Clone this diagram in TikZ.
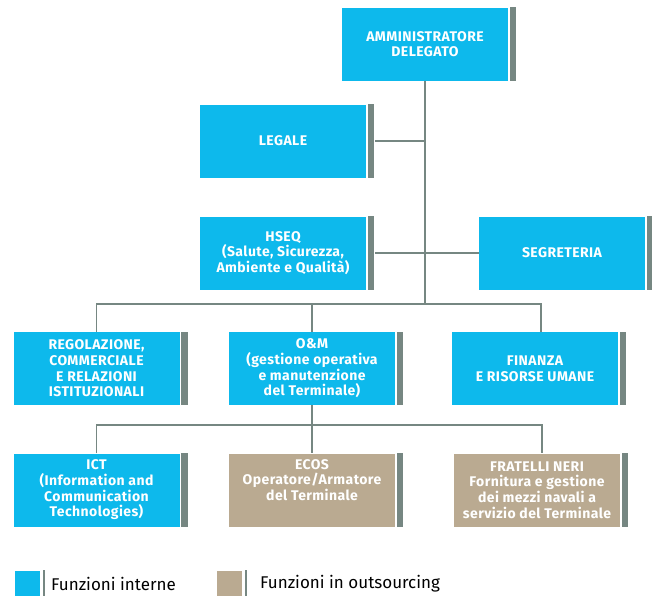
\documentclass[tikz,border=0pt]{standalone}
\usepackage{fontspec}
\setmainfont{Fira Sans}
\usepackage{tikz}
\usetikzlibrary{positioning}
\definecolor{funzblue}{RGB}{13,185,236}
\definecolor{funzsand}{RGB}{186,170,145}
\definecolor{funzgrey}{RGB}{118,135,130}

\begin{document}
\begin{tikzpicture}[x=1pt,y=-1pt,node distance=100pt,on grid,
    unit/.style={fill=funzblue,text=white,minimum width=166pt,minimum height=73pt,
      inner sep=0pt,align=center,font=\fontsize{14}{15.7}\selectfont\bfseries\addfontfeatures{LetterSpace=3}},
    outsrc/.style={unit,fill=funzsand},
    link/.style={draw=funzgrey,line width=1.6pt},
    keybox/.style={minimum size=25pt,inner sep=0pt},
    keytext/.style={anchor=west,inner sep=0pt,font=\fontsize{17}{20}\selectfont}]
    \useasboundingbox (0,0) rectangle (652,597);
    \node[unit] (ad) at (425,44) {AMMINISTRATORE\\DELEGATO};
    \node[unit] (legale) [below left=97pt and 142pt of ad] {LEGALE};
    \node[unit] (hseq) [below=112pt of legale] {HSEQ\\(Salute, Sicurezza,\\Ambiente e Qualità)};
    \node[unit] (segreteria) [right=279pt of hseq] {SEGRETERIA};
    \node[unit] (reg) at (96.5,368.5) {REGOLAZIONE,\\COMMERCIALE\\E RELAZIONI\\ISTITUZIONALI};
    \node[unit] (om) [right=215.5pt of reg] {O\&M\\(gestione operativa\\e manutenzione\\del Terminale)};
    \node[unit] (finanza) [right=223pt of om] {FINANZA\\E RISORSE UMANE};
    \node[unit] (ict) [below=121.5pt of reg] {ICT\\(Information and\\Communication\\Technologies)};
    \node[outsrc] (ecos) [below=121.5pt of om] {ECOS\\Operatore/Armatore\\del Terminale\\\strut};
    \node[outsrc] (fratelli) [below=121.5pt of finanza,xshift=2pt] {FRATELLI NERI\\Fornitura e gestione\\dei mezzi navali a\\servizio del Terminale};
    \foreach \n in {ad,legale,hseq,segreteria,reg,om,finanza,ict,ecos,fratelli}
      \fill[funzgrey] ([xshift=1.6pt]\n.north east) rectangle ([xshift=8pt]\n.south east);

    \coordinate (bus1) at (425,304);
    \coordinate (bus2) at (312,425);
    \draw[link] (ad.south) -- (bus1);
    \draw[link] ([xshift=9pt]legale.east) -- (legale -| ad);
    \draw[link] ([xshift=9pt]hseq.east) -- (segreteria.west);
    \draw[link] (reg.north) |- (bus1) -| ([xshift=6pt]finanza.north);
    \draw[link] (om.north) -- (om.north |- bus1);
    \draw[link] (om.south) -- (ecos.north);
    \draw[link] (ict.north) |- (bus2) -| ([xshift=5pt]fratelli.north);

    \node[keybox,fill=funzblue] (keyint) at (27,583) {};
    \node[keybox,fill=funzsand] (keyout) at (229,583) {};
    \foreach \n in {keyint,keyout}
      \fill[funzgrey] ([xshift=3pt]\n.north east) rectangle ([xshift=5.7pt]\n.south east);
    \node[keytext] (keyinttext) at (51,584) {Funzioni interne};
    \node[keytext] (keyouttext) at (260,584) {Funzioni in outsourcing};
\end{tikzpicture}
\end{document}
